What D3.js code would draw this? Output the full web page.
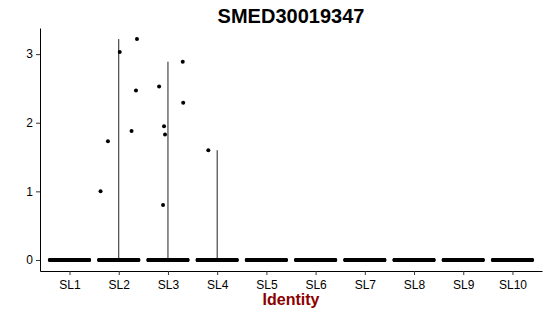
<!DOCTYPE html>
<html>
<head>
<meta charset="utf-8">
<script src="https://cdn.jsdelivr.net/npm/d3@7"></script>
<style>
  body { margin: 0; background: #fff; }
  text { font-family: "Liberation Sans", Arial, sans-serif; }
</style>
</head>
<body>
<div id="chart"></div>
<script>
// Violin plot of one gene by identity

var categories = ["SL1", "SL2", "SL3", "SL4", "SL5", "SL6", "SL7", "SL8", "SL9", "SL10"];

// expression values above zero, per identity
var nonZeroValues = {
  SL2: [1.00, 1.73, 1.88, 2.47, 3.03, 3.22],
  SL3: [2.53, 2.89, 2.29, 1.95, 1.83, 0.80],
  SL4: [1.60]
};
// jitter (fraction of one category step)
var nonZeroJitter = {
  SL2: [-0.37, -0.22, 0.26, 0.35, 0.02, 0.37],
  SL3: [-0.18, 0.30, 0.31, -0.08, -0.06, -0.10],
  SL4: [-0.18]
};
// number of cells at zero, per identity
var zeroCounts = [160, 160, 160, 160, 160, 160, 160, 160, 150, 120];

var yTicks = [0, 1, 2, 3];

var svgWidth = 550;
var svgHeight = 316;

var margin = { top: 28, right: 8, bottom: 45, left: 40 };
var width = svgWidth - margin.left - margin.right;
var height = svgHeight - margin.top - margin.bottom;

var svg = d3.select("#chart")
  .append("svg")
  .attr("width", svgWidth)
  .attr("height", svgHeight);

var chartGroup = svg.append("g")
  .attr("transform", `translate(${margin.left}, ${margin.top})`);

// discrete x axis with ggplot-like 0.6 expansion on each side
var xScale = d3.scalePoint()
  .domain(categories)
  .range([0, width])
  .padding(0.6);
var step = xScale.step();

var allValues = [0].concat(d3.merge(Object.values(nonZeroValues)));
var yMax = d3.max(allValues);
var pad = yMax * 0.05;
var yScale = d3.scaleLinear()
  .domain([-pad, yMax + pad])
  .range([height, 0]);

// violins: nearly all mass at zero, so they collapse to a thin stem
categories.forEach(function(cat) {
  var vals = nonZeroValues[cat];
  if (!vals) return;
  chartGroup.append("line")
    .attr("x1", xScale(cat))
    .attr("x2", xScale(cat))
    .attr("y1", yScale(0))
    .attr("y2", yScale(d3.max(vals)))
    .attr("stroke", "#222")
    .attr("stroke-width", 1);
});

// zero points, spread across the jitter width
categories.forEach(function(cat, i) {
  var n = zeroCounts[i];
  var pts = d3.range(n).map(function(k) { return -0.4 + 0.8 * k / (n - 1); });
  chartGroup.selectAll(null)
    .data(pts)
    .enter()
    .append("circle")
    .attr("cx", d => xScale(cat) + d * step)
    .attr("cy", yScale(0))
    .attr("r", 2)
    .attr("fill", "#000");
});

// non-zero points
Object.keys(nonZeroValues).forEach(function(cat) {
  var vals = nonZeroValues[cat];
  var jit = nonZeroJitter[cat];
  chartGroup.selectAll(null)
    .data(vals)
    .enter()
    .append("circle")
    .attr("cx", (d, i) => xScale(cat) + jit[i] * step)
    .attr("cy", d => yScale(d))
    .attr("r", 2)
    .attr("fill", "#000");
});

// axes
var bottomAxis = d3.axisBottom(xScale).tickSize(4).tickSizeOuter(0);
var leftAxis = d3.axisLeft(yScale).tickValues(yTicks).tickFormat(d3.format("d")).tickSize(4).tickSizeOuter(0);

var xAxisG = chartGroup.append("g")
  .attr("transform", `translate(0, ${height})`)
  .call(bottomAxis);

var yAxisG = chartGroup.append("g")
  .call(leftAxis);

[xAxisG, yAxisG].forEach(function(g) {
  g.select(".domain").attr("stroke", "#000").attr("stroke-width", 1);
  g.selectAll(".tick line").attr("stroke", "#333");
  g.selectAll(".tick text")
    .attr("fill", "#000")
    .style("font-size", "12px")
    .style("font-family", "Liberation Sans, Arial, sans-serif");
});
xAxisG.selectAll(".tick text").attr("dy", "0.9em");

// title
svg.append("text")
  .attr("x", margin.left + width / 2)
  .attr("y", 23)
  .attr("text-anchor", "middle")
  .style("font-size", "20px")
  .style("font-weight", "bold")
  .text("SMED30019347");

// x axis label
svg.append("text")
  .attr("x", margin.left + width / 2)
  .attr("y", 305)
  .attr("text-anchor", "middle")
  .style("font-size", "16px")
  .style("font-weight", "bold")
  .attr("fill", "#8B0000")
  .text("Identity");
</script>
</body>
</html>
